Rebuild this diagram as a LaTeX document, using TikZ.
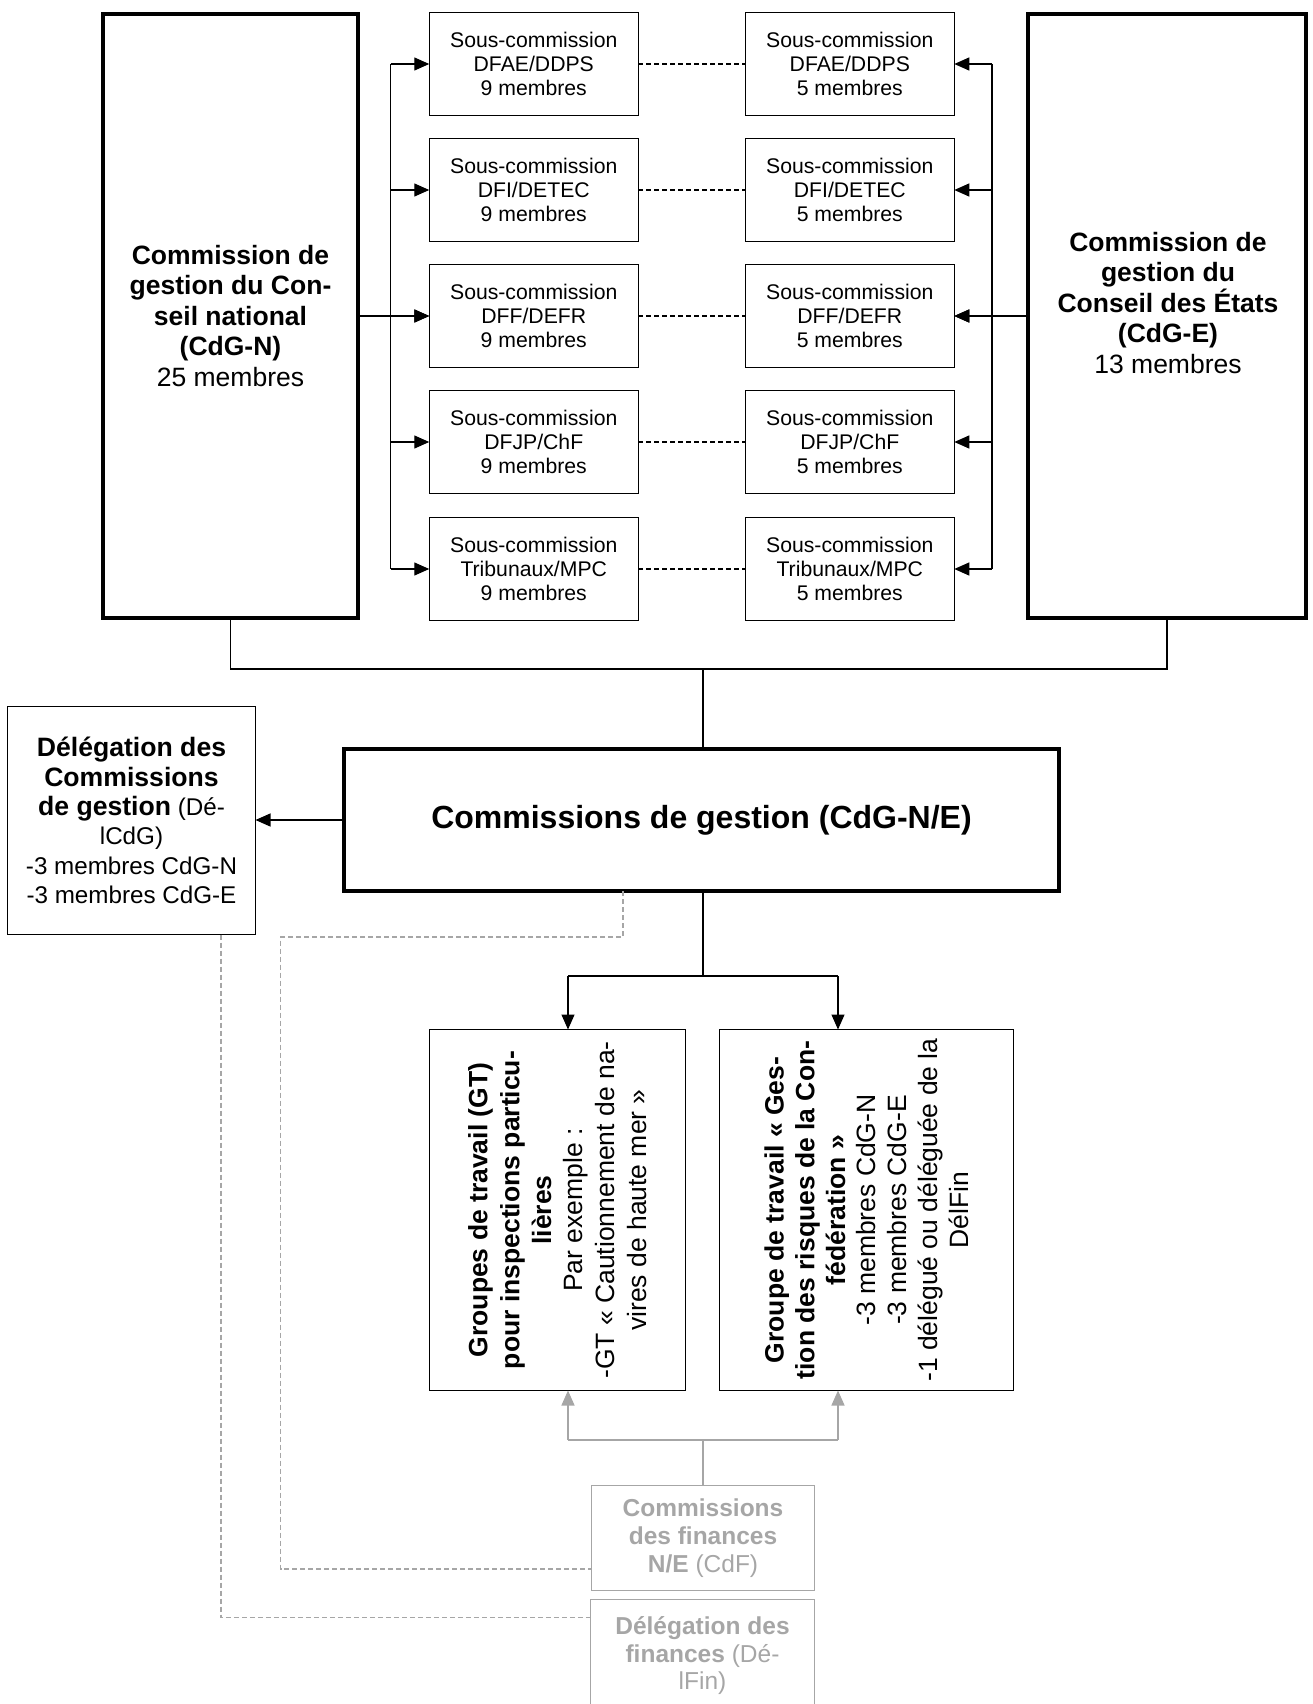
\documentclass[tikz,border=0pt]{standalone}
\usepackage{fontspec}
\setmainfont{Liberation Sans}
\usetikzlibrary{arrows.meta}
\definecolor{lg}{RGB}{166,166,166}
\newcommand\setfs[2]{\fontsize{#1}{#2}\selectfont}
\begin{document}
\begin{tikzpicture}[x=1pt,y=-1pt,
  every node/.style={inner sep=0pt, outer sep=0pt, align=center},
  bigbox/.style={draw, line width=4.3pt, rectangle},
  subbox/.style={draw, line width=1.3pt, minimum width=209pt, minimum height=103pt, font=\setfs{21.2}{24.4}},
  plainbox/.style={draw, line width=1.3pt, rectangle},
  graybox/.style={draw=lg, text=lg, line width=1.3pt, rectangle},
  ln/.style={line width=1.3pt},
  gln/.style={line width=1.3pt, draw=lg},
  arr/.style={ln, -{Triangle[length=15pt,width=13pt]}},
  garr/.style={gln, -{Triangle[length=15pt,width=13pt]}},
  pdash/.style={line width=1.2pt, dash pattern=on 5pt off 3pt},
  gdash/.style={line width=1.1pt, draw=lg, dash pattern=on 5pt off 3pt},
]
\useasboundingbox (0,0) rectangle (1312,1704);

% main commissions
\node[bigbox, minimum width=255pt, minimum height=604pt, font=\setfs{26.5}{30.5}] (CdGN) at (230.5,316)
  {\textbf{Commission de}\\\textbf{gestion du Con-}\\\textbf{seil national}\\\textbf{(CdG-N)}\\25 membres};
\node[bigbox, minimum width=278pt, minimum height=604pt] (CdGE) at (1167,316) {};
\node[font=\setfs{26.5}{30.5}] (CdGEt) at (1168,303)
  {\textbf{Commission de}\\\textbf{gestion du}\\\textbf{Conseil des États}\\\textbf{(CdG-E)}\\13 membres};

% sub-commissions
\node[subbox] (L1) at (533.75,64)  {Sous-commission\\DFAE/DDPS\\9 membres};
\node[subbox] (L2) at (533.75,190) {Sous-commission\\DFI/DETEC\\9 membres};
\node[subbox] (L3) at (533.75,316) {Sous-commission\\DFF/DEFR\\9 membres};
\node[subbox] (L4) at (533.75,442) {Sous-commission\\DFJP/ChF\\9 membres};
\node[subbox] (L5) at (533.75,569) {Sous-commission\\Tribunaux/MPC\\9 membres};
\node[subbox] (R1) at (849.8,64)  {Sous-commission\\DFAE/DDPS\\5 membres};
\node[subbox] (R2) at (849.8,190) {Sous-commission\\DFI/DETEC\\5 membres};
\node[subbox] (R3) at (849.8,316) {Sous-commission\\DFF/DEFR\\5 membres};
\node[subbox] (R4) at (849.8,442) {Sous-commission\\DFJP/ChF\\5 membres};
\node[subbox] (R5) at (849.8,569) {Sous-commission\\Tribunaux/MPC\\5 membres};

% joint commission
\node[bigbox, minimum width=715pt, minimum height=142pt, font=\setfs{32}{36}\bfseries] (CdGNE) at (701.5,820)
  {Commissions de gestion (CdG-N/E)};

% delegation
\node[plainbox, minimum width=248pt, minimum height=228pt, font=\setfs{24.2}{29.4}] (DelCdG) at (131.5,820.5)
  {{\setfs{26.6}{29.4}\bfseries Délégation des}\\{\setfs{26.6}{29.4}\bfseries Commissions}\\{\setfs{26.6}{29.4}\bfseries de gestion} (Dé-\\lCdG)\\-3 membres CdG-N\\-3 membres CdG-E};

% working groups
\node[plainbox, minimum width=256pt, minimum height=361pt] (GT1) at (557.5,1210) {};
\node[rotate=90, font=\setfs{26.5}{31.8}] (GT1t) at (GT1.center)
  {\textbf{Groupes de travail (GT)}\\\textbf{pour inspections particu-}\\\textbf{lières}\\Par exemple :\\-GT «~Cautionnement de na-\\vires de haute mer~»};
\node[plainbox, minimum width=294pt, minimum height=361pt] (GT2) at (866.5,1210) {};
\node[rotate=90, font=\setfs{26.5}{30.8}] (GT2t) at (GT2.center)
  {\textbf{Groupe de travail «~Ges-}\\\textbf{tion des risques de la Con-}\\\textbf{fédération~»}\\-3 membres CdG-N\\-3 membres CdG-E\\-1 délégué ou déléguée de la\\DélFin};

% finances
\node[graybox, minimum width=223pt, minimum height=105pt, font=\setfs{24.5}{28}] (CdF) at (703,1538)
  {\textbf{Commissions}\\\textbf{des finances}\\\textbf{N/E} (CdF)};
\node[graybox, minimum width=224pt, minimum height=112pt, font=\setfs{24.5}{27.5}] (DelFin) at (702.5,1655.6)
  {\textbf{Délégation des}\\\textbf{finances} (Dé-\\lFin)};

% buses to sub-commissions
\coordinate (busL) at (390.6,0);
\coordinate (busR) at (992,0);
\draw[ln] (busL |- L1.west) -- (busL |- L5.west);
\draw[ln] (busR |- R1.east) -- (busR |- R5.east);
\foreach \i in {1,...,5} {
  \draw[arr] (busL |- L\i.west) -- (L\i.west);
  \draw[arr] (busR |- R\i.east) -- (R\i.east);
  \draw[pdash] (L\i.east) -- (R\i.west);
}
\draw[arr] (CdGN.east) -- (L3.west);
\draw[arr] (CdGE.west) -- (R3.east);

% join to CdG-N/E
\coordinate (jn) at (703,669);
\draw[ln] (CdGN.south) |- (jn) -| (CdGE.south);
\draw[ln] (jn) -- (jn |- CdGNE.north);
\draw[arr] (CdGNE.west) -- (CdGNE.west -| DelCdG.east);

% to working groups
\coordinate (ja) at (568,976);
\coordinate (jb) at (838,976);
\draw[ln] (jn |- CdGNE.south) -- (jn |- ja);
\draw[ln] (ja) -- (jb);
\draw[arr] (ja) -- (ja |- GT1.north);
\draw[arr] (jb) -- (jb |- GT2.north);

% finances to working groups
\coordinate (ga) at (568,1440);
\coordinate (gb) at (838,1440);
\draw[gln] (CdF.north) -- (CdF.north |- ga);
\draw[gln] (ga) -- (gb);
\draw[garr] (ga) -- (ga |- GT1.south);
\draw[garr] (gb) -- (gb |- GT2.south);

% dashed gray links
\coordinate (d1) at (623,937);
\coordinate (d2) at (280.5,937);
\coordinate (d3) at (280.5,1569);
\draw[gdash] (d1 |- CdGNE.south) -- (d1) -- (d2) -- (d3) -- (d3 -| CdF.west);
\coordinate (e1) at (221,1617.6);
\draw[gdash] (e1 |- DelCdG.south) -- (e1) -- (e1 -| DelFin.west);
\end{tikzpicture}
\end{document}
